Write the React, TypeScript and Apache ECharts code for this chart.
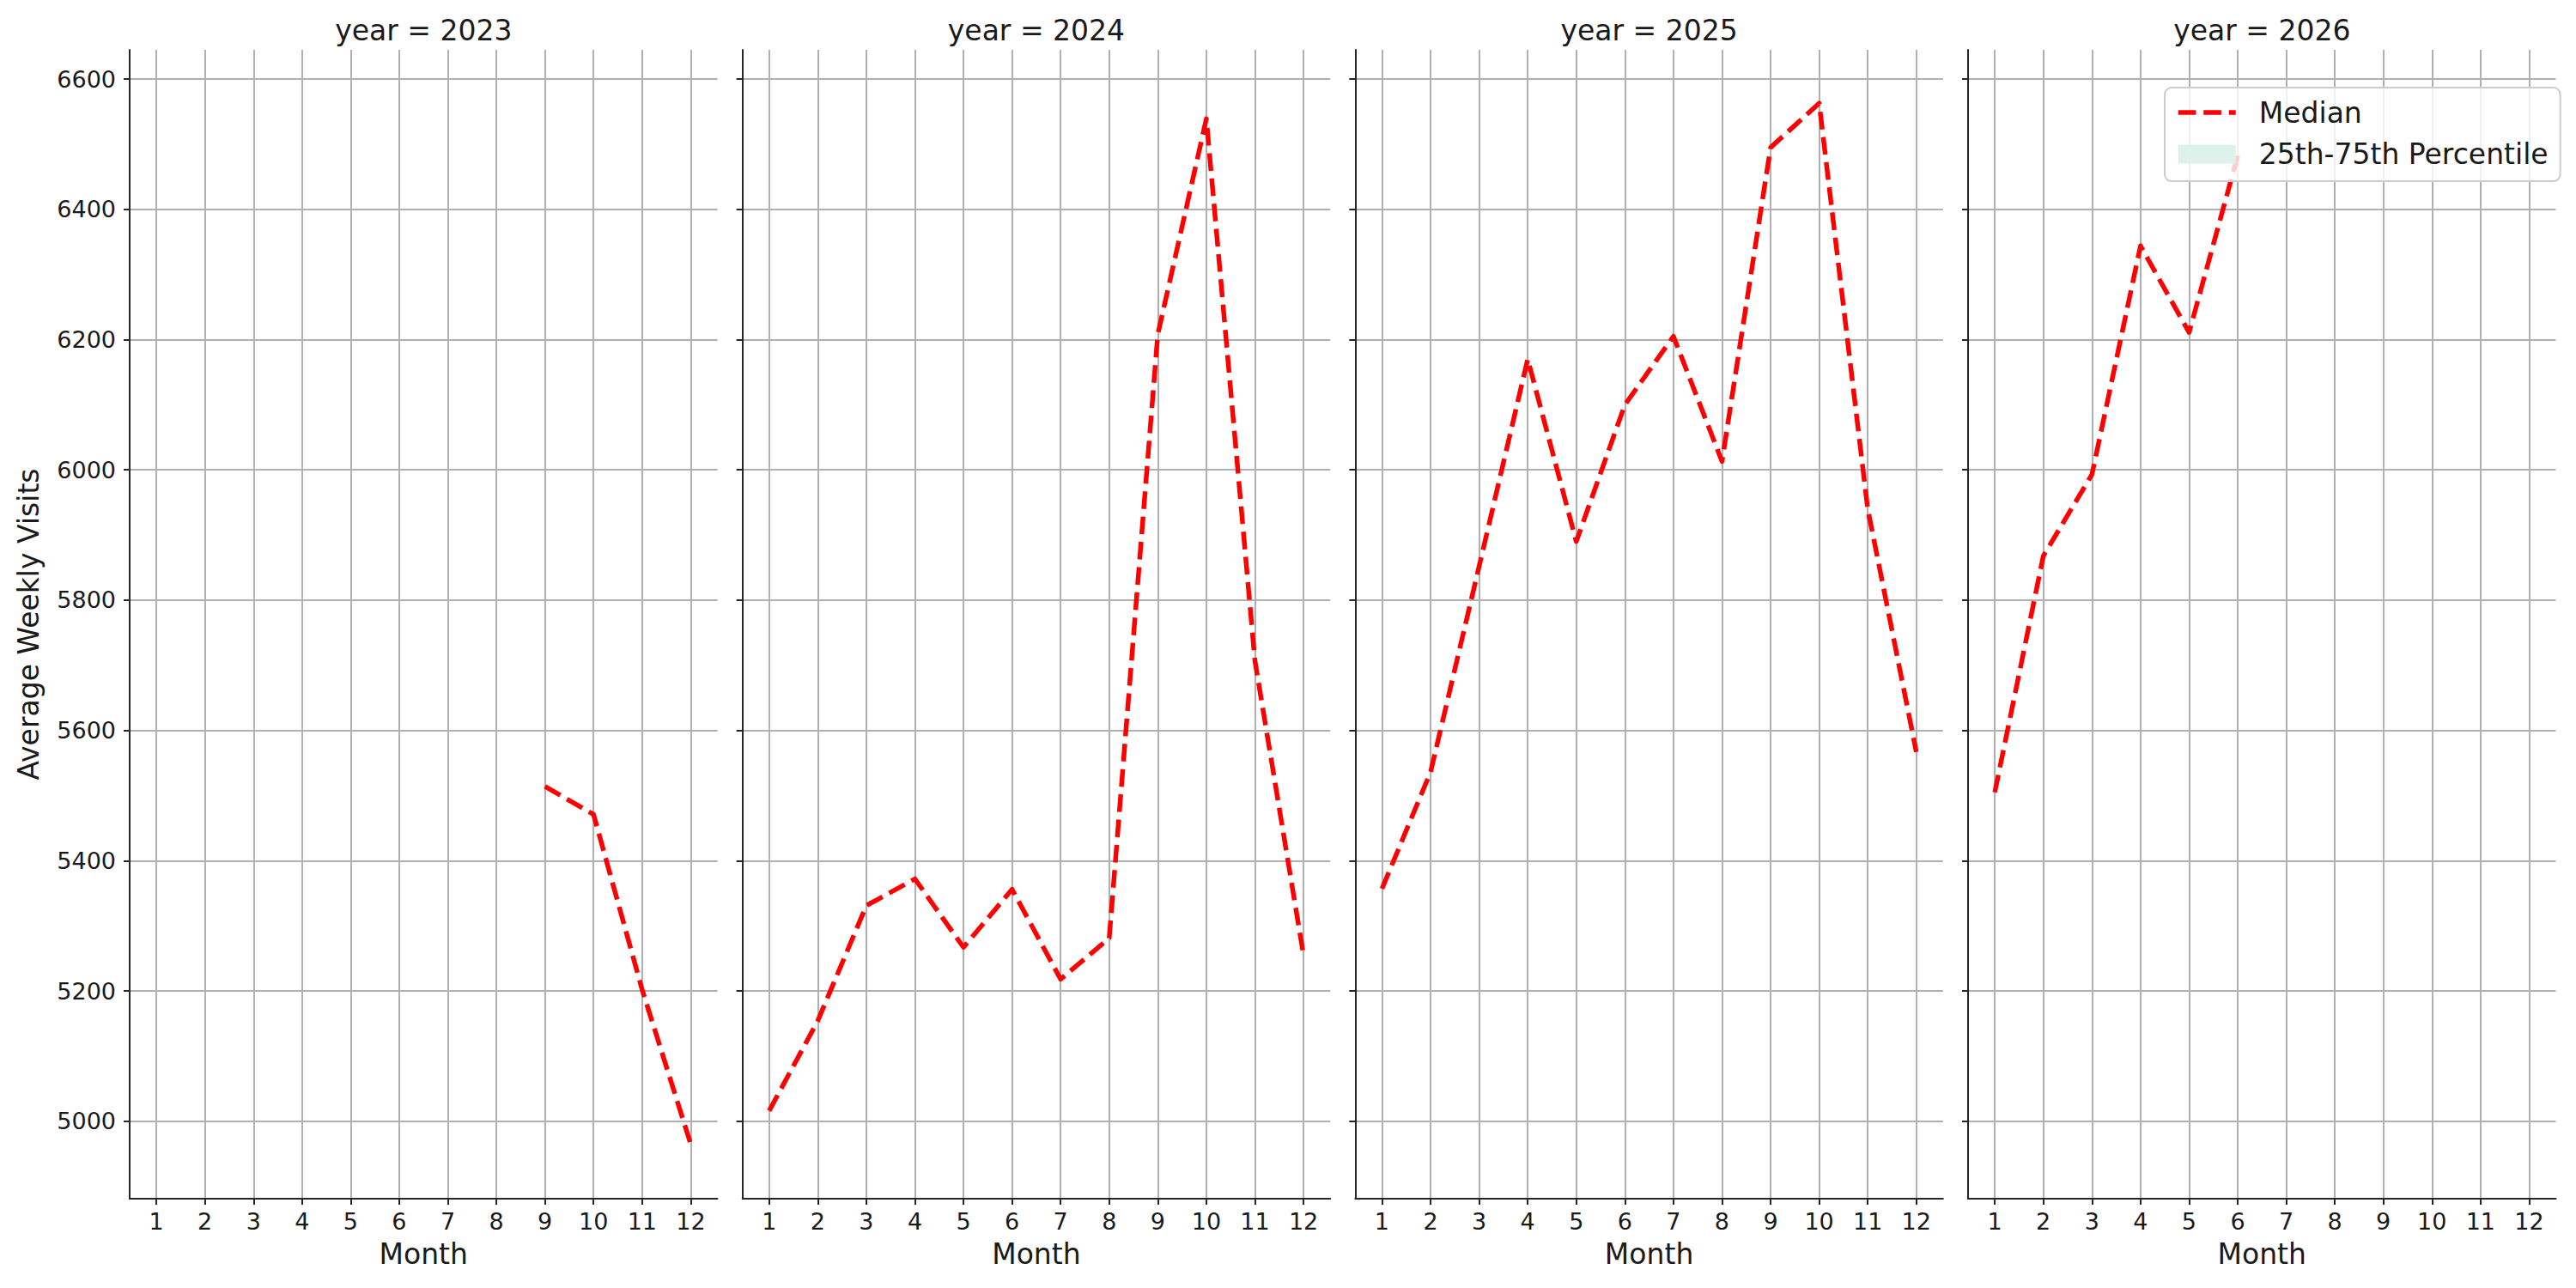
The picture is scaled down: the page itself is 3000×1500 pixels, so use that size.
import React, { useEffect, useRef } from "react";
import * as echarts from "echarts";

const years = ["2023", "2024", "2025", "2026"];
const months = [1, 2, 3, 4, 5, 6, 7, 8, 9, 10, 11, 12];
const yTicks = [5000, 5200, 5400, 5600, 5800, 6000, 6200, 6400, 6600];

const median2023 = [null, null, null, null, null, null, null, null, 5514, 5471, 5202, 4965];
const median2024 = [5016, 5154, 5331, 5372, 5267, 5356, 5218, 5281, 6208, 6539, 5707, 5255];
const median2025 = [5357, 5536, 5852, 6170, 5890, 6100, 6205, 6013, 6495, 6563, 5940, 5567];
const median2026 = [5505, 5868, 5993, 6344, 6211, 6482, null, null, null, null, null, null];
const medians = [median2023, median2024, median2025, median2026];

const yMin = 4881;
const yMax = 6645;
const xMin = 0.45;
const xMax = 12.55;

const FONT = "DejaVu Sans";
const TEXT = "#1a1a1a";
const SPINE = "#262626";
const GRIDC = "#b0b0b0";
const DASH = [20.6, 8.9];

export default function App() {
  const ref = useRef<HTMLDivElement>(null);
  useEffect(() => {
    if (!ref.current) return;
    const chart = echarts.init(ref.current, null, { renderer: "svg" });
    const panelLeft = (i: number) => 151 + i * 713.67;
    const panelWidth = 684.5;
    const top = 58;
    const height = 1338;

    const grids = years.map((_, i) => ({
      left: panelLeft(i),
      top,
      width: panelWidth,
      height,
      outerBoundsMode: "none",
      containLabel: false,
    }));

    const xAxes = years.map((_, i) => ({
      type: "value",
      gridIndex: i,
      min: xMin,
      max: xMax,
      axisLine: { show: true, onZero: false, lineStyle: { color: SPINE, width: 2 } },
      axisTick: {
        show: true,
        inside: false,
        length: 7,
        customValues: months,
        lineStyle: { color: SPINE, width: 2 },
      },
      axisLabel: {
        show: true,
        customValues: months,
        margin: 13,
        fontSize: 27,
        fontFamily: FONT,
        color: TEXT,
        formatter: (v: number) => String(v),
      },
      splitLine: { show: true, lineStyle: { color: GRIDC, width: 2 } },
    }));

    const yAxes = years.map((_, i) => ({
      type: "value",
      gridIndex: i,
      min: yMin,
      max: yMax,
      axisLine: { show: true, onZero: false, lineStyle: { color: SPINE, width: 2 } },
      axisTick: {
        show: true,
        inside: false,
        length: 7,
        customValues: yTicks,
        lineStyle: { color: SPINE, width: 2 },
      },
      axisLabel: {
        show: i === 0,
        customValues: yTicks,
        margin: 16,
        fontSize: 27,
        fontFamily: FONT,
        color: TEXT,
        formatter: (v: number) => String(v),
      },
      splitLine: { show: true, lineStyle: { color: GRIDC, width: 2 } },
    }));

    const series: any[] = medians.map((vals, i) => ({
      type: "line",
      name: "Median",
      xAxisIndex: i,
      yAxisIndex: i,
      data: months.map((m, k) => [m, vals[k]]),
      symbol: "none",
      connectNulls: false,
      color: "#ff0000",
      lineStyle: { color: "#ff0000", width: 5.5, type: DASH, cap: "butt", join: "round" },
      z: 3,
    }));
    series.push({
      type: "line",
      name: "25th-75th Percentile",
      xAxisIndex: 3,
      yAxisIndex: 3,
      data: [],
      symbol: "none",
      color: "#def2ec",
      itemStyle: { color: "#def2ec" },
      lineStyle: { width: 0 },
      areaStyle: { color: "#def2ec" },
    });

    const graphics: any[] = [];
    years.forEach((y, i) => {
      const cx = panelLeft(i) + panelWidth / 2;
      graphics.push({
        type: "text",
        x: cx,
        y: 35.3,
        style: {
          text: "year = " + y,
          fontSize: 33,
          fontFamily: FONT,
          fill: TEXT,
          align: "center",
          verticalAlign: "middle",
        },
      });
      graphics.push({
        type: "text",
        x: cx,
        y: 1460.6,
        style: {
          text: "Month",
          fontSize: 33,
          fontFamily: FONT,
          fill: TEXT,
          align: "center",
          verticalAlign: "middle",
        },
      });
    });
    graphics.push({
      type: "text",
      x: 33,
      y: 727,
      rotation: Math.PI / 2,
      style: {
        text: "Average Weekly Visits",
        fontSize: 33,
        fontFamily: FONT,
        fill: TEXT,
        align: "center",
        verticalAlign: "middle",
      },
    });

    chart.setOption({
      animation: false,
      backgroundColor: "#ffffff",
      grid: grids,
      xAxis: xAxes,
      yAxis: yAxes,
      series,
      legend: {
        orient: "vertical",
        left: 2521,
        top: 102,
        padding: [12.5, 14, 15, 13],
        itemWidth: 67,
        itemHeight: 22,
        itemGap: 15.6,
        backgroundColor: "rgba(255,255,255,0.8)",
        borderColor: "#cccccc",
        borderWidth: 2,
        borderRadius: 8,
        selectedMode: false,
        textStyle: { fontSize: 33, fontFamily: FONT, color: TEXT, padding: [0, 0, 0, 22] },
        data: [
          {
            name: "Median",
            itemStyle: { opacity: 0, borderWidth: 0 },
            lineStyle: { color: "#ff0000", width: 5.5, type: DASH, cap: "butt" },
          },
          {
            name: "25th-75th Percentile",
            icon: "rect",
            itemStyle: { color: "#def2ec", borderWidth: 0 },
          },
        ],
      },
      graphic: graphics,
    });
    return () => chart.dispose();
  }, []);
  return (
    <div
      ref={ref}
      style={{ position: "absolute", left: 0, top: 0, width: 3000, height: 1500 }}
    />
  );
}
